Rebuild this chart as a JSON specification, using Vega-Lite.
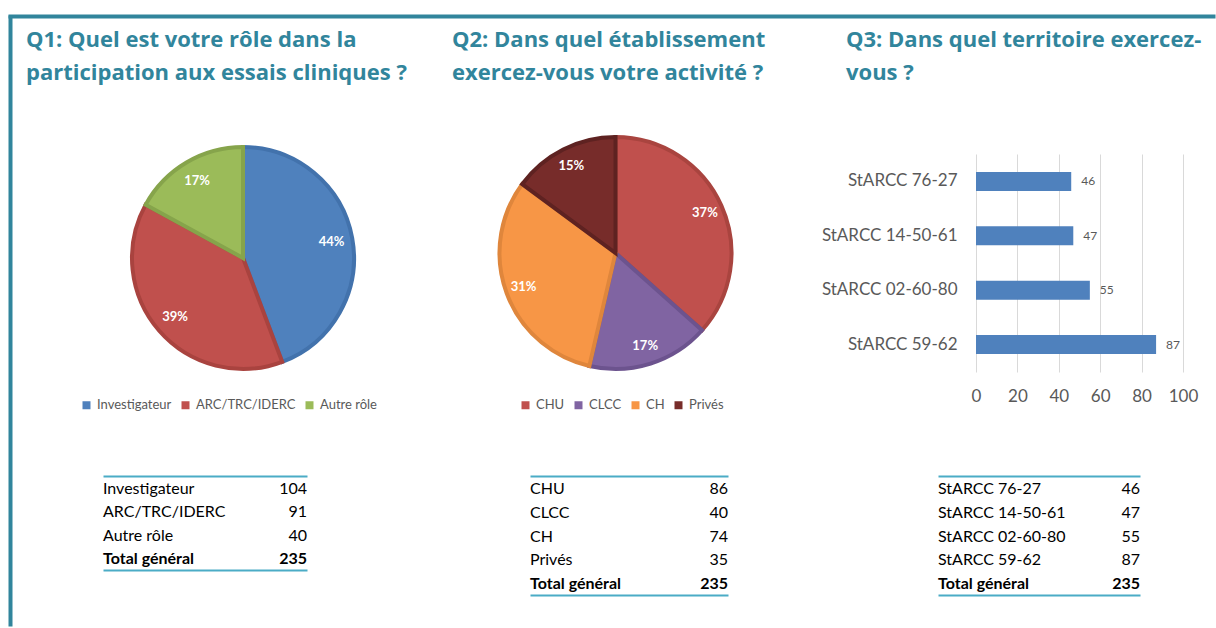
{
  "$schema": "https://vega.github.io/schema/vega-lite/v6.json",
  "padding": {"left": 8, "top": 14, "right": 0, "bottom": 0},
  "background": "#FFFFFF",
  "config": {
    "view": {"stroke": null},
    "font": "Lato",
    "title": {"anchor": "start", "frame": "group", "orient": "bottom", "fontSize": 22, "fontWeight": "bold", "color": "#31859C", "lineHeight": 33, "font": "Open Sans"},
    "legend": {"symbolType": "square", "symbolSize": 64, "symbolStrokeWidth": 0, "labelFontSize": 13, "labelColor": "#595959", "labelFont": "Lato", "columnPadding": 7, "labelOffset": 4}
  },
  "bounds": "flush",
  "spacing": 0,
  "vconcat": [
    {"width": 1204, "height": 1, "data": {"values": []}, "mark": "point", "view": {"stroke": "#31859C", "strokeWidth": 3}},
    {
      "bounds": "flush",
      "spacing": 15,
      "hconcat": [
        {"width": 1, "height": 608, "data": {"values": []}, "mark": "point", "view": {"stroke": "#31859C", "strokeWidth": 3}},
        {
          "bounds": "full",
          "spacing": 32,
          "vconcat": [
            {
              "bounds": "flush",
              "spacing": 0,
              "hconcat": [
                {"width": 426, "height": 1, "data": {"values": []}, "mark": "point",
                 "title": {"text": ["Q1: Quel est votre rôle dans la", "participation aux essais cliniques ?"], "offset": 12}},
                {"width": 394, "height": 1, "data": {"values": []}, "mark": "point",
                 "title": {"text": ["Q2: Dans quel établissement", "exercez-vous votre activité ?"], "offset": 12}},
                {"width": 330, "height": 1, "data": {"values": []}, "mark": "point",
                 "title": {"text": ["Q3: Dans quel territoire exercez-", "vous ?"], "offset": 12}},
                {"width": 1, "height": 80, "data": {"values": []}, "mark": "point"}
              ]
            },
            {
              "bounds": "flush",
              "spacing": 0,
              "resolve": {"scale": {"color": "independent", "stroke": "independent", "theta": "independent"}, "legend": {"color": "independent"}},
              "hconcat": [
                {
                  "width": 434, "height": 208,
                  "data": {"values": [
                    {"cat": "Investigateur", "n": 104, "pct": "44%"},
                    {"cat": "ARC/TRC/IDERC", "n": 91, "pct": "39%"},
                    {"cat": "Autre rôle", "n": 40, "pct": "17%"}
                  ]},
                  "transform": [{"window": [{"op": "row_number", "as": "k"}]}],
                  "encoding": {
                    "theta": {"field": "n", "type": "quantitative", "stack": true},
                    "order": {"field": "k", "type": "quantitative"}
                  },
                  "layer": [
                    {
                      "mark": {"type": "arc", "outerRadius": 111, "strokeWidth": 4},
                      "encoding": {
                        "color": {"field": "cat", "type": "nominal", "sort": null,
                          "scale": {"domain": ["Investigateur", "ARC/TRC/IDERC", "Autre rôle"], "range": ["#4F81BD", "#C0504D", "#9BBB59"]},
                          "legend": {"orient": "none", "legendX": 54, "legendY": 244.5, "direction": "horizontal", "title": null}},
                        "stroke": {"field": "cat", "type": "nominal",
                          "scale": {"domain": ["Investigateur", "ARC/TRC/IDERC", "Autre rôle"], "range": ["#4272AC", "#A9433F", "#86A44B"]},
                          "legend": null}
                      }
                    },
                    {
                      "mark": {"type": "text", "radius": 90, "fill": "#FFFFFF", "fontSize": 13, "fontWeight": "bold"},
                      "encoding": {"text": {"field": "pct"}, "detail": {"field": "cat"}}
                    }
                  ]
                },
                {
                  "width": 311, "height": 198,
                  "data": {"values": [
                    {"cat": "CHU", "n": 86, "pct": "37%"},
                    {"cat": "CLCC", "n": 40, "pct": "17%"},
                    {"cat": "CH", "n": 74, "pct": "31%"},
                    {"cat": "Privés", "n": 35, "pct": "15%"}
                  ]},
                  "transform": [{"window": [{"op": "row_number", "as": "k"}]}],
                  "encoding": {
                    "theta": {"field": "n", "type": "quantitative", "stack": true},
                    "order": {"field": "k", "type": "quantitative"}
                  },
                  "layer": [
                    {
                      "mark": {"type": "arc", "outerRadius": 116, "strokeWidth": 4},
                      "encoding": {
                        "color": {"field": "cat", "type": "nominal", "sort": null,
                          "scale": {"domain": ["CHU", "CLCC", "CH", "Privés"], "range": ["#C0504D", "#8064A2", "#F79646", "#772C2A"]},
                          "legend": {"orient": "none", "legendX": 59, "legendY": 244.5, "direction": "horizontal", "title": null}},
                        "stroke": {"field": "cat", "type": "nominal",
                          "scale": {"domain": ["CHU", "CLCC", "CH", "Privés"], "range": ["#A9443F", "#6C538E", "#DF863C", "#5E2221"]},
                          "legend": null}
                      }
                    },
                    {
                      "mark": {"type": "text", "radius": 98, "fill": "#FFFFFF", "fontSize": 13, "fontWeight": "bold"},
                      "encoding": {"text": {"field": "pct"}, "detail": {"field": "cat"}}
                    }
                  ]
                },
                {"width": 205, "height": 290, "data": {"values": []}, "mark": "point"},
                {
                  "width": 207, "height": 218,
                  "data": {"values": [
                    {"terr": "StARCC 59-62", "n": 87},
                    {"terr": "StARCC 02-60-80", "n": 55},
                    {"terr": "StARCC 14-50-61", "n": 47},
                    {"terr": "StARCC 76-27", "n": 46}
                  ]},
                  "encoding": {
                    "y": {"field": "terr", "type": "nominal",
                      "sort": ["StARCC 76-27", "StARCC 14-50-61", "StARCC 02-60-80", "StARCC 59-62"],
                      "scale": {"paddingInner": 0.65, "paddingOuter": 0.33},
                      "axis": {"title": null, "domain": false, "ticks": false, "labelFontSize": 17, "labelColor": "#595959", "labelPadding": 19}},
                    "x": {"field": "n", "type": "quantitative",
                      "scale": {"domain": [0, 100], "nice": false},
                      "axis": {"title": null, "values": [0, 20, 40, 60, 80, 100], "domain": false, "ticks": false, "grid": true, "gridColor": "#D9D9D9", "labelFontSize": 17, "labelColor": "#595959", "labelPadding": 16, "labelFlush": false}}
                  },
                  "layer": [
                    {"mark": {"type": "bar", "color": "#4F81BD"}},
                    {"mark": {"type": "text", "align": "left", "dx": 10, "fontSize": 12, "color": "#595959"}, "encoding": {"text": {"field": "n"}}}
                  ]
                }
              ]
            },
            {
              "bounds": "flush",
              "spacing": 0,
              "hconcat": [
                {"width": 77, "height": 1, "data": {"values": []}, "mark": "point"},
                {
                  "width": 204, "height": 94,
                  "data": {"values": [
                    {"label": "Investigateur", "n": 104, "total": false},
                    {"label": "ARC/TRC/IDERC", "n": 91, "total": false},
                    {"label": "Autre rôle", "n": 40, "total": false},
                    {"label": "Total général", "n": 235, "total": true}
                  ]},
                  "transform": [{"fold": ["label", "n"], "as": ["col", "val"]}],
                  "encoding": {
                    "y": {"field": "label", "type": "nominal", "sort": null, "scale": {"paddingInner": 0, "paddingOuter": 0}, "axis": null},
                    "text": {"field": "val"}
                  },
                  "layer": [
                    {
                      "transform": [{"filter": "datum.col === 'label'"}],
                      "mark": {"type": "text", "align": "left", "dy": 1, "fontSize": 16, "color": "#000000", "fontWeight": {"expr": "datum.total ? 'bold' : 'normal'"}},
                      "encoding": {"x": {"field": "col", "type": "nominal", "scale": {"type": "point", "domain": ["label", "n"], "padding": 0},
                        "axis": {"orient": "top", "title": null, "labels": false, "ticks": false, "grid": false, "domainColor": "#4BACC6", "domainWidth": 2}}}
                    },
                    {
                      "transform": [{"filter": "datum.col === 'n'"}],
                      "mark": {"type": "text", "align": "right", "dy": 1, "fontSize": 16, "color": "#000000", "fontWeight": {"expr": "datum.total ? 'bold' : 'normal'"}},
                      "encoding": {"x": {"field": "col", "type": "nominal", "scale": {"type": "point", "domain": ["label", "n"], "padding": 0},
                        "axis": {"orient": "bottom", "title": null, "labels": false, "ticks": false, "grid": false, "domainColor": "#4BACC6", "domainWidth": 2}}}
                    }
                  ],
                  "resolve": {"axis": {"x": "independent"}}
                },
                {"width": 223, "height": 1, "data": {"values": []}, "mark": "point"},
                {
                  "width": 198, "height": 119,
                  "data": {"values": [
                    {"label": "CHU", "n": 86, "total": false},
                    {"label": "CLCC", "n": 40, "total": false},
                    {"label": "CH", "n": 74, "total": false},
                    {"label": "Privés", "n": 35, "total": false},
                    {"label": "Total général", "n": 235, "total": true}
                  ]},
                  "transform": [{"fold": ["label", "n"], "as": ["col", "val"]}],
                  "encoding": {
                    "y": {"field": "label", "type": "nominal", "sort": null, "scale": {"paddingInner": 0, "paddingOuter": 0}, "axis": null},
                    "text": {"field": "val"}
                  },
                  "layer": [
                    {
                      "transform": [{"filter": "datum.col === 'label'"}],
                      "mark": {"type": "text", "align": "left", "dy": 1, "fontSize": 16, "color": "#000000", "fontWeight": {"expr": "datum.total ? 'bold' : 'normal'"}},
                      "encoding": {"x": {"field": "col", "type": "nominal", "scale": {"type": "point", "domain": ["label", "n"], "padding": 0},
                        "axis": {"orient": "top", "title": null, "labels": false, "ticks": false, "grid": false, "domainColor": "#4BACC6", "domainWidth": 2}}}
                    },
                    {
                      "transform": [{"filter": "datum.col === 'n'"}],
                      "mark": {"type": "text", "align": "right", "dy": 1, "fontSize": 16, "color": "#000000", "fontWeight": {"expr": "datum.total ? 'bold' : 'normal'"}},
                      "encoding": {"x": {"field": "col", "type": "nominal", "scale": {"type": "point", "domain": ["label", "n"], "padding": 0},
                        "axis": {"orient": "bottom", "title": null, "labels": false, "ticks": false, "grid": false, "domainColor": "#4BACC6", "domainWidth": 2}}}
                    }
                  ],
                  "resolve": {"axis": {"x": "independent"}}
                },
                {"width": 210, "height": 1, "data": {"values": []}, "mark": "point"},
                {
                  "width": 202, "height": 119,
                  "data": {"values": [
                    {"label": "StARCC 76-27", "n": 46, "total": false},
                    {"label": "StARCC 14-50-61", "n": 47, "total": false},
                    {"label": "StARCC 02-60-80", "n": 55, "total": false},
                    {"label": "StARCC 59-62", "n": 87, "total": false},
                    {"label": "Total général", "n": 235, "total": true}
                  ]},
                  "transform": [{"fold": ["label", "n"], "as": ["col", "val"]}],
                  "encoding": {
                    "y": {"field": "label", "type": "nominal", "sort": null, "scale": {"paddingInner": 0, "paddingOuter": 0}, "axis": null},
                    "text": {"field": "val"}
                  },
                  "layer": [
                    {
                      "transform": [{"filter": "datum.col === 'label'"}],
                      "mark": {"type": "text", "align": "left", "dy": 1, "fontSize": 16, "color": "#000000", "fontWeight": {"expr": "datum.total ? 'bold' : 'normal'"}},
                      "encoding": {"x": {"field": "col", "type": "nominal", "scale": {"type": "point", "domain": ["label", "n"], "padding": 0},
                        "axis": {"orient": "top", "title": null, "labels": false, "ticks": false, "grid": false, "domainColor": "#4BACC6", "domainWidth": 2}}}
                    },
                    {
                      "transform": [{"filter": "datum.col === 'n'"}],
                      "mark": {"type": "text", "align": "right", "dy": 1, "fontSize": 16, "color": "#000000", "fontWeight": {"expr": "datum.total ? 'bold' : 'normal'"}},
                      "encoding": {"x": {"field": "col", "type": "nominal", "scale": {"type": "point", "domain": ["label", "n"], "padding": 0},
                        "axis": {"orient": "bottom", "title": null, "labels": false, "ticks": false, "grid": false, "domainColor": "#4BACC6", "domainWidth": 2}}}
                    }
                  ],
                  "resolve": {"axis": {"x": "independent"}}
                }
              ]
            }
          ]
        }
      ]
    }
  ]
}
